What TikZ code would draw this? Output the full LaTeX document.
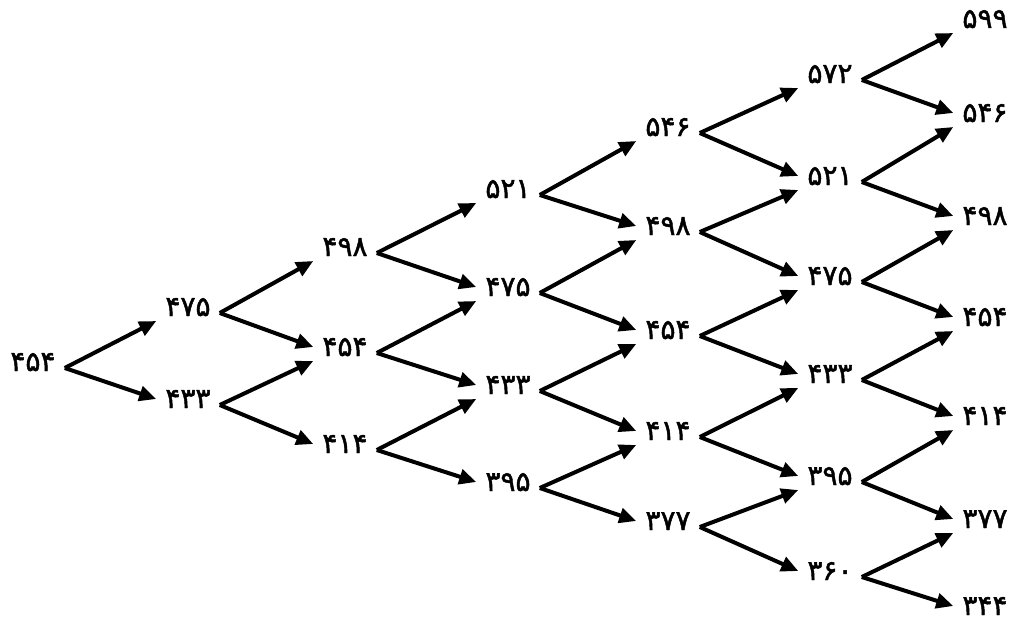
\documentclass[tikz,border=0pt]{standalone}
\usepackage{fontspec}
\newfontfamily\fa[FakeBold=1.6]{DejaVu Sans}
\usetikzlibrary{arrows.meta}
\tikzset{
  val/.style={font=\fa\fontsize{28}{28}\selectfont, inner ysep=0pt, inner xsep=9pt, text height=0.6em, text depth=0pt, anchor=center},
  arr/.style={line width=4pt, -{Triangle[length=17pt,width=15pt]}}
}
\begin{document}
\begin{tikzpicture}[x=1pt,y=-1pt]
\useasboundingbox (0,0) rectangle (1011,626);
% column 0
\node[val] (n-0-0) at (33,368) {۴۵۴};
% column 1
\node[val] (n-1-0) at (188,313) {۴۷۵};
\node[val] (n-1-1) at (188,405) {۴۳۳};
% column 2
\node[val] (n-2-0) at (345,253) {۴۹۸};
\node[val] (n-2-1) at (345,353) {۴۵۴};
\node[val] (n-2-2) at (345,450) {۴۱۴};
% column 3
\node[val] (n-3-0) at (508,195) {۵۲۱};
\node[val] (n-3-1) at (508,293) {۴۷۵};
\node[val] (n-3-2) at (508,391) {۴۳۳};
\node[val] (n-3-3) at (508,488) {۳۹۵};
% column 4
\node[val] (n-4-0) at (668,133) {۵۴۶};
\node[val] (n-4-1) at (668,232) {۴۹۸};
\node[val] (n-4-2) at (668,336) {۴۵۴};
\node[val] (n-4-3) at (668,437) {۴۱۴};
\node[val] (n-4-4) at (668,527) {۳۷۷};
% column 5
\node[val] (n-5-0) at (830,80) {۵۷۲};
\node[val] (n-5-1) at (830,182) {۵۲۱};
\node[val] (n-5-2) at (830,282) {۴۷۵};
\node[val] (n-5-3) at (830,380) {۴۳۳};
\node[val] (n-5-4) at (830,482) {۳۹۵};
\node[val] (n-5-5) at (830,577) {۳۶۰};
% column 6
\node[val] (n-6-0) at (985,25) {۵۹۹};
\node[val] (n-6-1) at (985,119) {۵۴۶};
\node[val] (n-6-2) at (985,222) {۴۹۸};
\node[val] (n-6-3) at (985,323) {۴۵۴};
\node[val] (n-6-4) at (985,422) {۴۱۴};
\node[val] (n-6-5) at (985,525) {۳۷۷};
\node[val] (n-6-6) at (985,612) {۳۴۴};
% connectors
\foreach \c in {0,...,5}{
  \pgfmathtruncatemacro\nc{\c+1}
  \foreach \r in {0,...,\c}{
    \pgfmathtruncatemacro\nr{\r+1}
    \draw[arr] (n-\c-\r.east) -- ([yshift=-8pt]n-\nc-\r.west);
    \draw[arr] (n-\c-\r.east) -- ([yshift=6pt]n-\nc-\nr.west);
  }
}
\end{tikzpicture}
\end{document}
